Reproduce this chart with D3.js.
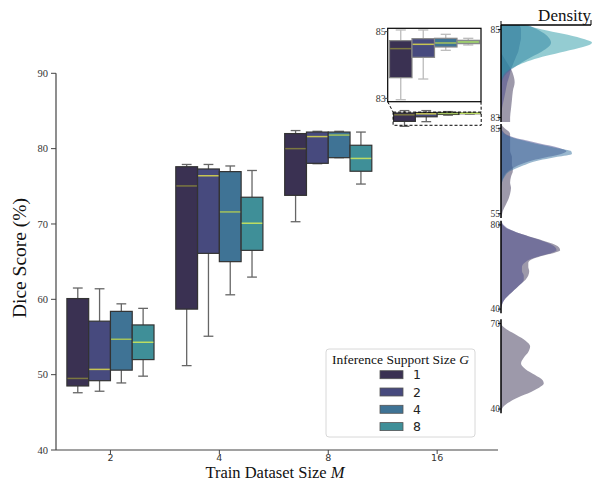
<!DOCTYPE html>
<html>
<head>
<meta charset="utf-8">
<script src="https://cdn.jsdelivr.net/npm/d3@7"></script>
<style>
  body { margin: 0; background: #fff; }
  svg { display: block; }
</style>
</head>
<body>
<div id="chart"></div>
<script>
// train dataset sizes (x categories) and inference support sizes (hue)
var trainSizes = ["2", "4", "8", "16"];
var supportSizes = ["1", "2", "4", "8"];

// box stats per support size: [low whisker, q1, median, q3, high whisker]
var statsM2 = [[47.6, 48.5, 49.5, 60.1, 61.5], [47.8, 49.2, 50.7, 57.1, 61.4], [48.9, 50.6, 54.7, 58.4, 59.4], [49.8, 52.0, 54.3, 56.6, 58.8]];
var statsM4 = [[51.2, 58.7, 75.05, 77.6, 77.9], [55.1, 66.1, 76.4, 77.3, 77.9], [60.6, 65.0, 71.6, 76.95, 77.7], [62.95, 66.5, 70.1, 73.55, 77.1]];
var statsM8 = [[70.3, 73.8, 80.0, 82.0, 82.4], [78.0, 78.05, 81.6, 82.2, 82.3], [78.8, 78.8, 81.8, 82.2, 82.3], [75.3, 77.0, 78.7, 80.45, 82.2]];
var statsM16 = [[82.96, 83.62, 84.49, 84.73, 85.05], [83.58, 84.23, 84.62, 84.79, 85.05], [84.44, 84.54, 84.66, 84.8, 84.92], [84.6, 84.64, 84.69, 84.74, 84.8]];

var yTicks = [40, 50, 60, 70, 80, 90];

// density side panels (value grid + density for each support size)
var densGrid16 = [85.1, 85.0, 84.9, 84.8, 84.7, 84.6, 84.5, 84.4, 84.3, 84.2, 84.1, 84.0, 83.8, 83.6, 83.4, 83.2, 83.0, 82.9];
var dens16G1 = [0, 0, 0, 0, 0, 0, 0, 0.02, 0.05, 0.08, 0.11, 0.13, 0.15, 0.13, 0.12, 0.11, 0.1, 0.1];
var dens16G2 = [0.2, 0.22, 0.22, 0.22, 0.21, 0.2, 0.19, 0.17, 0.15, 0.13, 0.11, 0.1, 0.07, 0.05, 0.03, 0.01, 0, 0];
var dens16G4 = [0.3, 0.4, 0.48, 0.53, 0.55, 0.52, 0.45, 0.36, 0.27, 0.19, 0.12, 0.06, 0.01, 0, 0, 0, 0, 0];
var dens16G8 = [0.25, 0.45, 0.68, 0.88, 1.0, 0.9, 0.7, 0.5, 0.33, 0.2, 0.1, 0.04, 0, 0, 0, 0, 0, 0];

var densGrid8 = [86.5, 85, 84, 83, 82, 80, 78, 77, 76, 75, 74, 73, 72, 71, 70, 68, 66, 64, 62, 60, 58, 56, 54, 53.5];
var dens8G1 = [0, 0.04, 0.08, 0.1, 0.1, 0.1, 0.1, 0.1, 0.11, 0.12, 0.12, 0.12, 0.12, 0.13, 0.13, 0.11, 0.1, 0.11, 0.1, 0.08, 0.05, 0.02, 0.005, 0];
var dens8G2 = [0, 0, 0.02, 0.05, 0.12, 0.38, 0.65, 0.72, 0.66, 0.52, 0.38, 0.27, 0.19, 0.13, 0.08, 0.03, 0.01, 0, 0, 0, 0, 0, 0, 0];
var dens8G4 = [0, 0, 0.01, 0.04, 0.1, 0.33, 0.62, 0.77, 0.78, 0.62, 0.46, 0.33, 0.25, 0.17, 0.1, 0.04, 0.01, 0, 0, 0, 0, 0, 0, 0];

var densGrid4 = [82, 80, 78, 76, 74, 72, 70, 68, 66, 64, 62, 60, 58, 56, 54, 52, 50, 48, 46, 44, 42, 40, 38];
var dens4G1 = [0, 0.02, 0.08, 0.2, 0.35, 0.5, 0.62, 0.65, 0.52, 0.36, 0.3, 0.3, 0.31, 0.3, 0.27, 0.22, 0.17, 0.12, 0.07, 0.03, 0.01, 0, 0];
var dens4G2 = [0, 0.03, 0.09, 0.2, 0.34, 0.48, 0.58, 0.61, 0.5, 0.34, 0.26, 0.23, 0.23, 0.25, 0.25, 0.22, 0.17, 0.12, 0.07, 0.03, 0.01, 0, 0];

var densGrid2 = [71.5, 70, 68, 66, 64, 62, 60, 58, 56, 54, 52, 50, 49, 48, 46, 44, 42, 40, 38.5];
var dens2G1 = [0, 0, 0.06, 0.17, 0.27, 0.32, 0.3, 0.25, 0.22, 0.27, 0.37, 0.46, 0.47, 0.44, 0.33, 0.18, 0.07, 0.01, 0];

// colours
var boxColors = ["#3a3152", "#474a7e", "#3f7395", "#3f8f98"];
var medianColors = ["#7b7740", "#c7c453", "#a3c25c", "#bcdc62"];
var densColors = ["#3b3356", "#4a4a8c", "#33709e", "#2a9aa5"];

var W = 597, H = 482;
var svg = d3.select("#chart").append("svg")
  .attr("width", W)
  .attr("height", H)
  .style("font-family", "'Liberation Serif', 'DejaVu Serif', serif");

// ---- main box plot ----
var x = d3.scaleBand().domain(trainSizes).range([56, 491.6]);
var y = d3.scaleLinear().domain([40, 90]).range([450, 73.3]);
var xInner = d3.scaleBand().domain(supportSizes).range([0, x.bandwidth() * 0.8]);

var allStats = [statsM2, statsM4, statsM8, statsM16];

function drawBoxes(g, stats, xPos, bw, ys, whiskerColor, edgeColor) {
  stats.forEach(function(s, i) {
    var cx = xPos(i) + bw / 2;
    var capW = bw * 0.45;
    // whiskers
    g.append("line").attr("x1", cx).attr("x2", cx).attr("y1", ys(s[0])).attr("y2", ys(s[1]))
      .attr("stroke", whiskerColor).attr("stroke-width", 1.3);
    g.append("line").attr("x1", cx).attr("x2", cx).attr("y1", ys(s[3])).attr("y2", ys(s[4]))
      .attr("stroke", whiskerColor).attr("stroke-width", 1.3);
    g.append("line").attr("x1", cx - capW / 2).attr("x2", cx + capW / 2).attr("y1", ys(s[0])).attr("y2", ys(s[0]))
      .attr("stroke", whiskerColor).attr("stroke-width", 1.3);
    g.append("line").attr("x1", cx - capW / 2).attr("x2", cx + capW / 2).attr("y1", ys(s[4])).attr("y2", ys(s[4]))
      .attr("stroke", whiskerColor).attr("stroke-width", 1.3);
    // box
    g.append("rect")
      .attr("x", xPos(i))
      .attr("y", ys(s[3]))
      .attr("width", bw)
      .attr("height", Math.max(ys(s[1]) - ys(s[3]), 0.5))
      .attr("fill", boxColors[i])
      .attr("stroke", edgeColor)
      .attr("stroke-width", 1.2);
    // median
    g.append("line")
      .attr("x1", xPos(i) + 0.6).attr("x2", xPos(i) + bw - 0.6)
      .attr("y1", ys(s[2])).attr("y2", ys(s[2]))
      .attr("stroke", medianColors[i]).attr("stroke-width", 1.5);
  });
}

var main = svg.append("g");
trainSizes.forEach(function(m, k) {
  var x0 = x(m) + x.bandwidth() * 0.1;
  drawBoxes(main, allStats[k], function(i) { return x0 + xInner(supportSizes[i]); }, xInner.bandwidth(), y, "#666", "#333");
});

// axes
main.append("line").attr("x1", 56).attr("x2", 56).attr("y1", y(90)).attr("y2", y(40))
  .attr("stroke", "#444").attr("stroke-width", 1.2);
main.append("line").attr("x1", 56).attr("x2", 498).attr("y1", y(40)).attr("y2", y(40))
  .attr("stroke", "#444").attr("stroke-width", 1.2);

yTicks.forEach(function(t) {
  main.append("line").attr("x1", 51).attr("x2", 56).attr("y1", y(t)).attr("y2", y(t))
    .attr("stroke", "#444").attr("stroke-width", 1);
  main.append("text")
    .attr("x", 48).attr("y", y(t))
    .attr("dy", "0.35em")
    .attr("text-anchor", "end")
    .attr("font-size", 10.5)
    .attr("fill", "#333")
    .text(t);
});

trainSizes.forEach(function(m) {
  var cx = x(m) + x.bandwidth() / 2;
  main.append("line").attr("x1", cx).attr("x2", cx).attr("y1", 450).attr("y2", 454)
    .attr("stroke", "#444").attr("stroke-width", 1);
  main.append("text")
    .attr("x", cx).attr("y", 460.5)
    .attr("text-anchor", "middle")
    .attr("font-family", "'DejaVu Sans', sans-serif")
    .attr("font-size", 9.5)
    .attr("fill", "#333")
    .text(m);
});

main.append("text")
  .attr("transform", "translate(26,258) rotate(-90)")
  .attr("text-anchor", "middle")
  .attr("font-size", 19.5)
  .attr("fill", "#111")
  .text("Dice Score (%)");

var xl = main.append("text")
  .attr("x", 275).attr("y", 478)
  .attr("text-anchor", "middle")
  .attr("font-size", 16.5)
  .attr("fill", "#111");
xl.append("tspan").text("Train Dataset Size ");
xl.append("tspan").attr("font-style", "italic").text("M");

// ---- zoom inset for M = 16 ----
var inset = { x0: 387.7, x1: 481, y0: 28.3, y1: 101.7 };
var yIn = d3.scaleLinear().domain([82.9, 85.1]).range([inset.y1, inset.y0]);
var xIn = d3.scaleBand().domain(supportSizes).range([389.5, 479.5]);

// dashed region on the main axes and connectors
var zx0 = x("16") + x.bandwidth() * 0.1 - 0.5, zx1 = x("16") + x.bandwidth() * 0.9 + 0.5;
var zTop = y(84.85), zBot = y(83.1);
main.append("rect")
  .attr("x", zx0).attr("y", zTop)
  .attr("width", zx1 - zx0).attr("height", zBot - zTop)
  .attr("fill", "none").attr("stroke", "#000").attr("stroke-width", 1)
  .attr("stroke-dasharray", "3,2");
main.append("line").attr("x1", inset.x0).attr("y1", inset.y1).attr("x2", zx0).attr("y2", zTop)
  .attr("stroke", "#000").attr("stroke-width", 1).attr("stroke-dasharray", "3,2");
main.append("line").attr("x1", inset.x1).attr("y1", inset.y1).attr("x2", zx1).attr("y2", zTop)
  .attr("stroke", "#000").attr("stroke-width", 1).attr("stroke-dasharray", "3,2");

var ins = svg.append("g");
ins.append("rect")
  .attr("x", inset.x0).attr("y", inset.y0)
  .attr("width", inset.x1 - inset.x0).attr("height", inset.y1 - inset.y0)
  .attr("fill", "#fff");
drawBoxes(ins, statsM16, function(i) { return xIn(supportSizes[i]); }, xIn.bandwidth(), yIn, "#bbb", "#888");
ins.append("rect")
  .attr("x", inset.x0).attr("y", inset.y0)
  .attr("width", inset.x1 - inset.x0).attr("height", inset.y1 - inset.y0)
  .attr("fill", "none").attr("stroke", "#000").attr("stroke-width", 1.2);
[83, 85].forEach(function(t) {
  ins.append("line").attr("x1", inset.x0 - 3).attr("x2", inset.x0).attr("y1", yIn(t)).attr("y2", yIn(t))
    .attr("stroke", "#444");
  ins.append("text")
    .attr("x", inset.x0 - 2).attr("y", yIn(t))
    .attr("dy", "0.35em")
    .attr("text-anchor", "end")
    .attr("font-size", 10)
    .attr("fill", "#333")
    .text(t);
});

// ---- legend ----
var leg = svg.append("g");
leg.append("rect")
  .attr("x", 326).attr("y", 349).attr("width", 149).attr("height", 88)
  .attr("rx", 3)
  .attr("fill", "#fff").attr("fill-opacity", 0.8)
  .attr("stroke", "#d8d8d8");
var lt = leg.append("text")
  .attr("x", 400.5).attr("y", 364)
  .attr("text-anchor", "middle")
  .attr("font-size", 13.5)
  .attr("fill", "#111");
lt.append("tspan").text("Inference Support Size ");
lt.append("tspan").attr("font-style", "italic").text("G");
supportSizes.forEach(function(s, i) {
  var cy = 374.7 + i * 17.3;
  leg.append("rect")
    .attr("x", 380).attr("y", cy - 4).attr("width", 23).attr("height", 8)
    .attr("fill", boxColors[i]).attr("stroke", "#555").attr("stroke-width", 0.8);
  leg.append("text")
    .attr("x", 413).attr("y", cy)
    .attr("dy", "0.36em")
    .attr("font-family", "'DejaVu Sans', sans-serif")
    .attr("font-size", 12.5)
    .attr("fill", "#222")
    .text(s);
});

// ---- density panels ----
var xd = d3.scaleLinear().domain([0, 1]).range([501, 592]);

var panels = [
  { top: 25, bottom: 122, lim: [82.9, 85.1], ticks: [83, 85], grid: densGrid16, series: [dens16G1, dens16G2, dens16G4, dens16G8], colors: [0, 1, 2, 3] },
  { top: 124, bottom: 218, lim: [53.5, 86.5], ticks: [55, 85], grid: densGrid8, series: [dens8G1, dens8G2, dens8G4], colors: [0, 1, 2] },
  { top: 220.7, bottom: 313.3, lim: [38, 82], ticks: [40, 80], grid: densGrid4, series: [dens4G1, dens4G2], colors: [0, 1] },
  { top: 319.3, bottom: 413.3, lim: [38.5, 71.5], ticks: [40, 70], grid: densGrid2, series: [dens2G1], colors: [0] }
];

var defs = svg.append("defs");
panels.forEach(function(p, k) {
  var ys = d3.scaleLinear().domain(p.lim).range([p.bottom, p.top]);
  defs.append("clipPath").attr("id", "clipd" + k)
    .append("rect").attr("x", xd(0)).attr("y", p.top).attr("width", W - xd(0)).attr("height", p.bottom - p.top);
  var g = svg.append("g").attr("clip-path", "url(#clipd" + k + ")");
  var area = d3.area()
    .y(function(d) { return ys(d[0]); })
    .x0(xd(0))
    .x1(function(d) { return xd(d[1]); })
    .curve(d3.curveMonotoneY);
  p.series.forEach(function(s, i) {
    var pts = p.grid.map(function(v, j) { return [v, s[j]]; });
    g.append("path")
      .attr("d", area(pts))
      .attr("fill", densColors[p.colors[i]])
      .attr("fill-opacity", 0.5);
  });
  svg.append("line").attr("x1", xd(0)).attr("x2", xd(0)).attr("y1", p.top).attr("y2", p.bottom)
    .attr("stroke", "#000").attr("stroke-width", 1.5);
  p.ticks.forEach(function(t) {
    svg.append("line").attr("x1", xd(0) - 3).attr("x2", xd(0)).attr("y1", ys(t)).attr("y2", ys(t))
      .attr("stroke", "#000").attr("stroke-width", 1);
    svg.append("text")
      .attr("x", xd(0) - 1).attr("y", ys(t))
      .attr("dy", "0.35em")
      .attr("text-anchor", "end")
      .attr("font-size", 9.5)
      .attr("fill", "#333")
      .text(t);
  });
});

// top "Density" axis
svg.append("line").attr("x1", xd(0)).attr("x2", 591).attr("y1", 25).attr("y2", 25)
  .attr("stroke", "#000").attr("stroke-width", 1.5);
svg.append("line").attr("x1", 591).attr("x2", 591).attr("y1", 20).attr("y2", 25)
  .attr("stroke", "#000").attr("stroke-width", 1);
svg.append("line").attr("x1", xd(0)).attr("x2", xd(0)).attr("y1", 21).attr("y2", 25)
  .attr("stroke", "#000").attr("stroke-width", 1);
svg.append("text")
  .attr("x", 591).attr("y", 20.5)
  .attr("text-anchor", "end")
  .attr("font-size", 17)
  .attr("fill", "#111")
  .text("Density");
</script>
</body>
</html>
